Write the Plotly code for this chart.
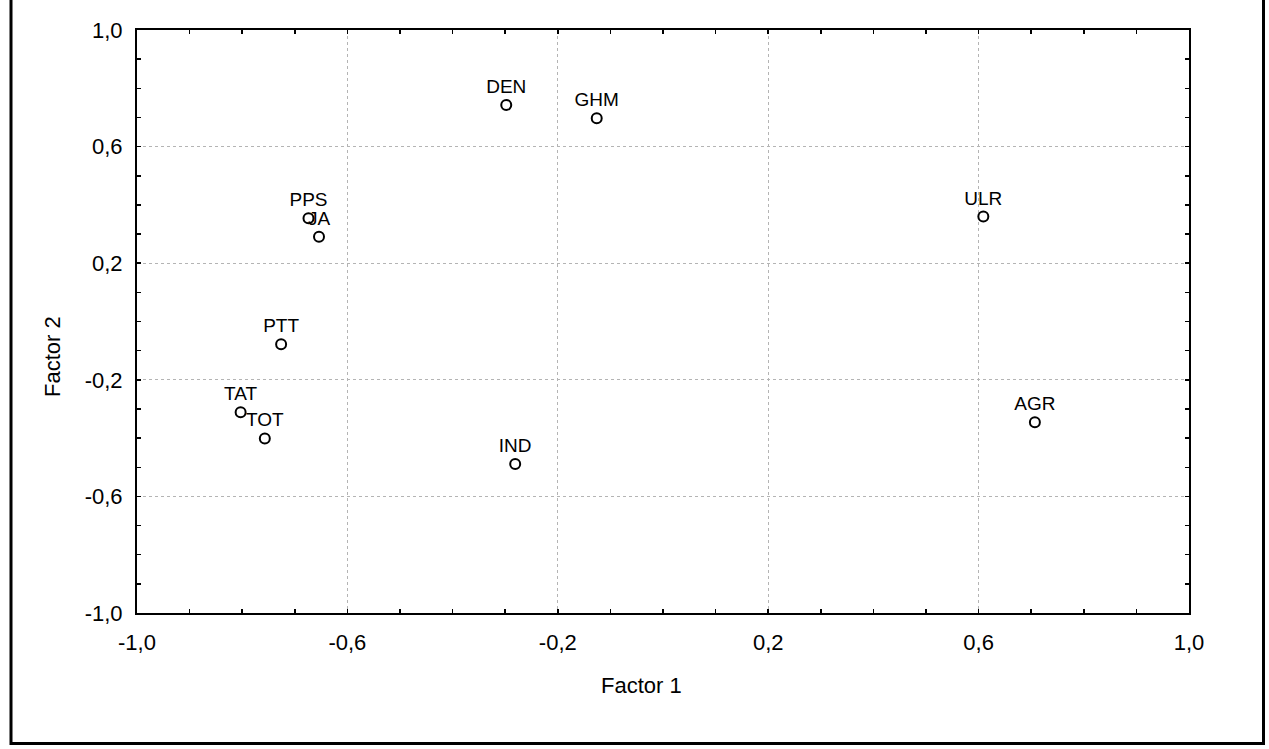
import plotly.graph_objects as go

labels = ["DEN", "GHM", "PPS", "JA", "ULR", "PTT", "TAT", "TOT", "IND", "AGR"]
factor1 = [-0.298, -0.126, -0.674, -0.654, 0.609, -0.726, -0.803, -0.757, -0.281, 0.707]
factor2 = [0.743, 0.697, 0.354, 0.291, 0.360, -0.078, -0.311, -0.401, -0.489, -0.346]
tick_vals = [-1.0, -0.6, -0.2, 0.2, 0.6, 1.0]
tick_text = ["-1,0", "-0,6", "-0,2", "0,2", "0,6", "1,0"]

W, H = 1269, 749
L, R, T, B = 137, 80, 30, 136
pw, ph = W - L - R, H - T - B

FONT = "Liberation Sans, Arial, sans-serif"

fig = go.Figure()
fig.add_trace(go.Scatter(
    x=factor1, y=factor2, mode="markers+text", text=labels,
    textposition="top center",
    textfont=dict(family=FONT, size=19, color="black"),
    marker=dict(symbol="circle-open", size=10, color="black", line=dict(width=2, color="black")),
    cliponaxis=False, showlegend=False, hoverinfo="skip",
))

axis_common = dict(
    range=[-1, 1], tickvals=tick_vals, ticktext=tick_text,
    showgrid=True, gridcolor="#b4b4b4", griddash="dot", gridwidth=1,
    zeroline=False, showline=True, linecolor="black", linewidth=2, mirror="ticks",
    ticks="inside", ticklen=4, tickwidth=1.5, tickcolor="black",
    minor=dict(dtick=0.1, ticks="inside", ticklen=4, tickwidth=1.5, tickcolor="black", showgrid=False),
    tickfont=dict(family=FONT, size=22, color="black"),
)

fig.update_xaxes(**axis_common, ticklabelstandoff=9)
fig.update_yaxes(**axis_common, ticklabelstandoff=8)

def px_to_paper(px, py):
    return (px - L) / pw, (H - B - py) / ph

x0, y0 = px_to_paper(11, -5)
x1, y1 = px_to_paper(1263.5, 743.5)
fig.add_shape(type="rect", xref="paper", yref="paper", x0=x0, y0=y1, x1=x1, y1=y0,
              line=dict(color="black", width=3), fillcolor="rgba(0,0,0,0)", layer="above")

ax, ay = px_to_paper(641, 685)
fig.add_annotation(text="Factor 1", xref="paper", yref="paper", x=ax, y=ay,
                   showarrow=False, font=dict(family=FONT, size=22, color="black"),
                   xanchor="center", yanchor="middle")
bx, by = px_to_paper(52, 357)
fig.add_annotation(text="Factor 2", xref="paper", yref="paper", x=bx, y=by, textangle=-90,
                   showarrow=False, font=dict(family=FONT, size=22, color="black"),
                   xanchor="center", yanchor="middle")

fig.update_layout(
    width=W, height=H, margin=dict(l=L, r=R, t=T, b=B),
    paper_bgcolor="white", plot_bgcolor="white", hovermode=False,
)

fig.write_html(
    "out.html",
    config={"displayModeBar": False, "staticPlot": True},
    post_script="document.body.style.margin='0';document.body.style.overflow='hidden';",
)
